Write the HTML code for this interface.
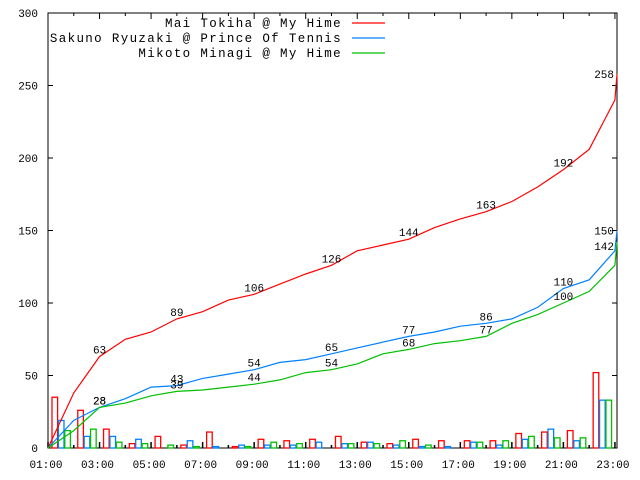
<!DOCTYPE html>
<html><head><meta charset="utf-8"><style>
body{margin:0;background:#fff;width:640px;height:480px;overflow:hidden}
svg{display:block}
text{font-family:"Liberation Mono",monospace;fill:#000}
</style></head><body>
<svg id="chart" width="640" height="480" xmlns="http://www.w3.org/2000/svg"></svg>
<script>
const hours=[1,2,3,4,5,6,7,8,9,10,11,12,13,14,15,16,17,18,19,20,21,22,23,23.08];
const redCum=[0,38,63,75,80,89,94,102,106,113,120,126,136,140,144,152,158,163,170,180,192,206,240,258];
const blueCum=[0,19,28,34,42,43,48,51,54,59,61,65,69,73,77,80,84,86,89,97,110,116,136,150];
const greenCum=[0,12,28,31,36,39,40,42,44,47,52,54,58,65,68,72,74,77,86,92,100,108,126,142];
const barHours=[1,2,3,4,5,6,7,8,9,10,11,12,13,14,15,16,17,18,19,20,21,22];
const redBars=[35,26,13,3,8,2,11,1,6,5,6,8,4,3,6,5,5,5,10,11,12,52];
const blueBars=[19,8,8,6,0,5,1,2,2,2,4,3,4,2,1,1,4,2,6,13,5,33];
const greenBars=[12,13,4,3,2,1,0,1,4,3,0,3,3,5,2,0,4,5,8,7,7,33];
const yTicks=[0,50,100,150,200,250,300];
const xTickLabels=["01:00","03:00","05:00","07:00","09:00","11:00","13:00","15:00","17:00","19:00","21:00","23:00"];
const labelIdx=[2,5,8,11,14,17,20];
const NS="http://www.w3.org/2000/svg";
const svg=document.getElementById('chart');
const L=48,R=617,T=13,B=448;
const xs=h=>L+(h-1)*25.77;
const ys=v=>B-v*(B-T)/300;
function mk(tag,attrs,parent){const e=document.createElementNS(NS,tag);for(const k in attrs)e.setAttribute(k,attrs[k]);(parent||svg).appendChild(e);return e;}
// frame
const frame=mk('rect',{x:L,y:T,width:R-L,height:B-T,fill:'none',stroke:'#000','stroke-width':1});


// y ticks
yTicks.forEach(v=>{
 const y=ys(v);
 mk('line',{x1:L,x2:L+5,y1:y,y2:y,stroke:'#000'});
 mk('line',{x1:R-5,x2:R,y1:y,y2:y,stroke:'#000'});
 const t=mk('text',{x:38,y:y+4,'text-anchor':'end','font-size':11});
 t.textContent=v;
 
 
});
// x ticks
for(let h=1;h<=23;h++){
 const x=xs(h);const len=(h%2==1)?6:3;
 mk('line',{x1:x,x2:x,y1:B,y2:B-len,stroke:'#000','stroke-width':1.5});
 mk('line',{x1:x,x2:x,y1:T,y2:T+len,stroke:'#000'});
}
xTickLabels.forEach((s,i)=>{
 const t=mk('text',{x:xs(1+2*i)-2,y:468,'text-anchor':'middle','font-size':11});
 t.textContent=s;
 
 
});
// bars
const bw=6.4;
[[redBars,'#ff0000',0],[blueBars,'#0080ff',1],[greenBars,'#00c000',2]].forEach(([arr,c,k])=>{
 arr.forEach((v,i)=>{
  const x=xs(barHours[i])+4+k*bw;
  const r=mk('rect',{x:x,y:ys(v),width:bw-0.8,height:B-ys(v),fill:'none',stroke:c,'stroke-width':1.3});
  
  
 });
});
// lines
[[redCum,'#ff0000','red-cumulative-line'],[blueCum,'#0080ff','blue-cumulative-line'],[greenCum,'#00c000','green-cumulative-line']].forEach(([arr,c,n])=>{
 const p=arr.map((v,i)=>xs(hours[i]).toFixed(1)+','+ys(v).toFixed(1)).join(' ');
 const pl=mk('polyline',{points:p,fill:'none',stroke:c,'stroke-width':1.2});
 
 
 labelIdx.forEach(i=>{
  const t=mk('text',{x:xs(hours[i]),y:ys(arr[i])-3,'text-anchor':'middle','font-size':11});
  t.textContent=arr[i];
  
  
 });
 const last=arr.length-1;
 const t=mk('text',{x:xs(hours[last])-3,y:ys(arr[last])+(n[0]=='g'?8:4),'text-anchor':'end','font-size':11});
 t.textContent=arr[last];
 
 
});
// legend
const legend=[["Mai Tokiha @ My Hime",'#ff0000'],["Sakuno Ryuzaki @ Prince Of Tennis",'#0080ff'],["Mikoto Minagi @ My Hime",'#00c000']];
const lg=mk('g',{});


legend.forEach(([s,c],i)=>{
 const y=23+i*15;
 const t=mk('text',{x:342,y:y+4,'text-anchor':'end','font-size':12.5,'letter-spacing':'1.35'},lg);
 t.textContent=s;
 
 
 mk('line',{x1:352,x2:385,y1:y,y2:y,stroke:c,'stroke-width':1.2},lg);
});
</script>
</body></html>
